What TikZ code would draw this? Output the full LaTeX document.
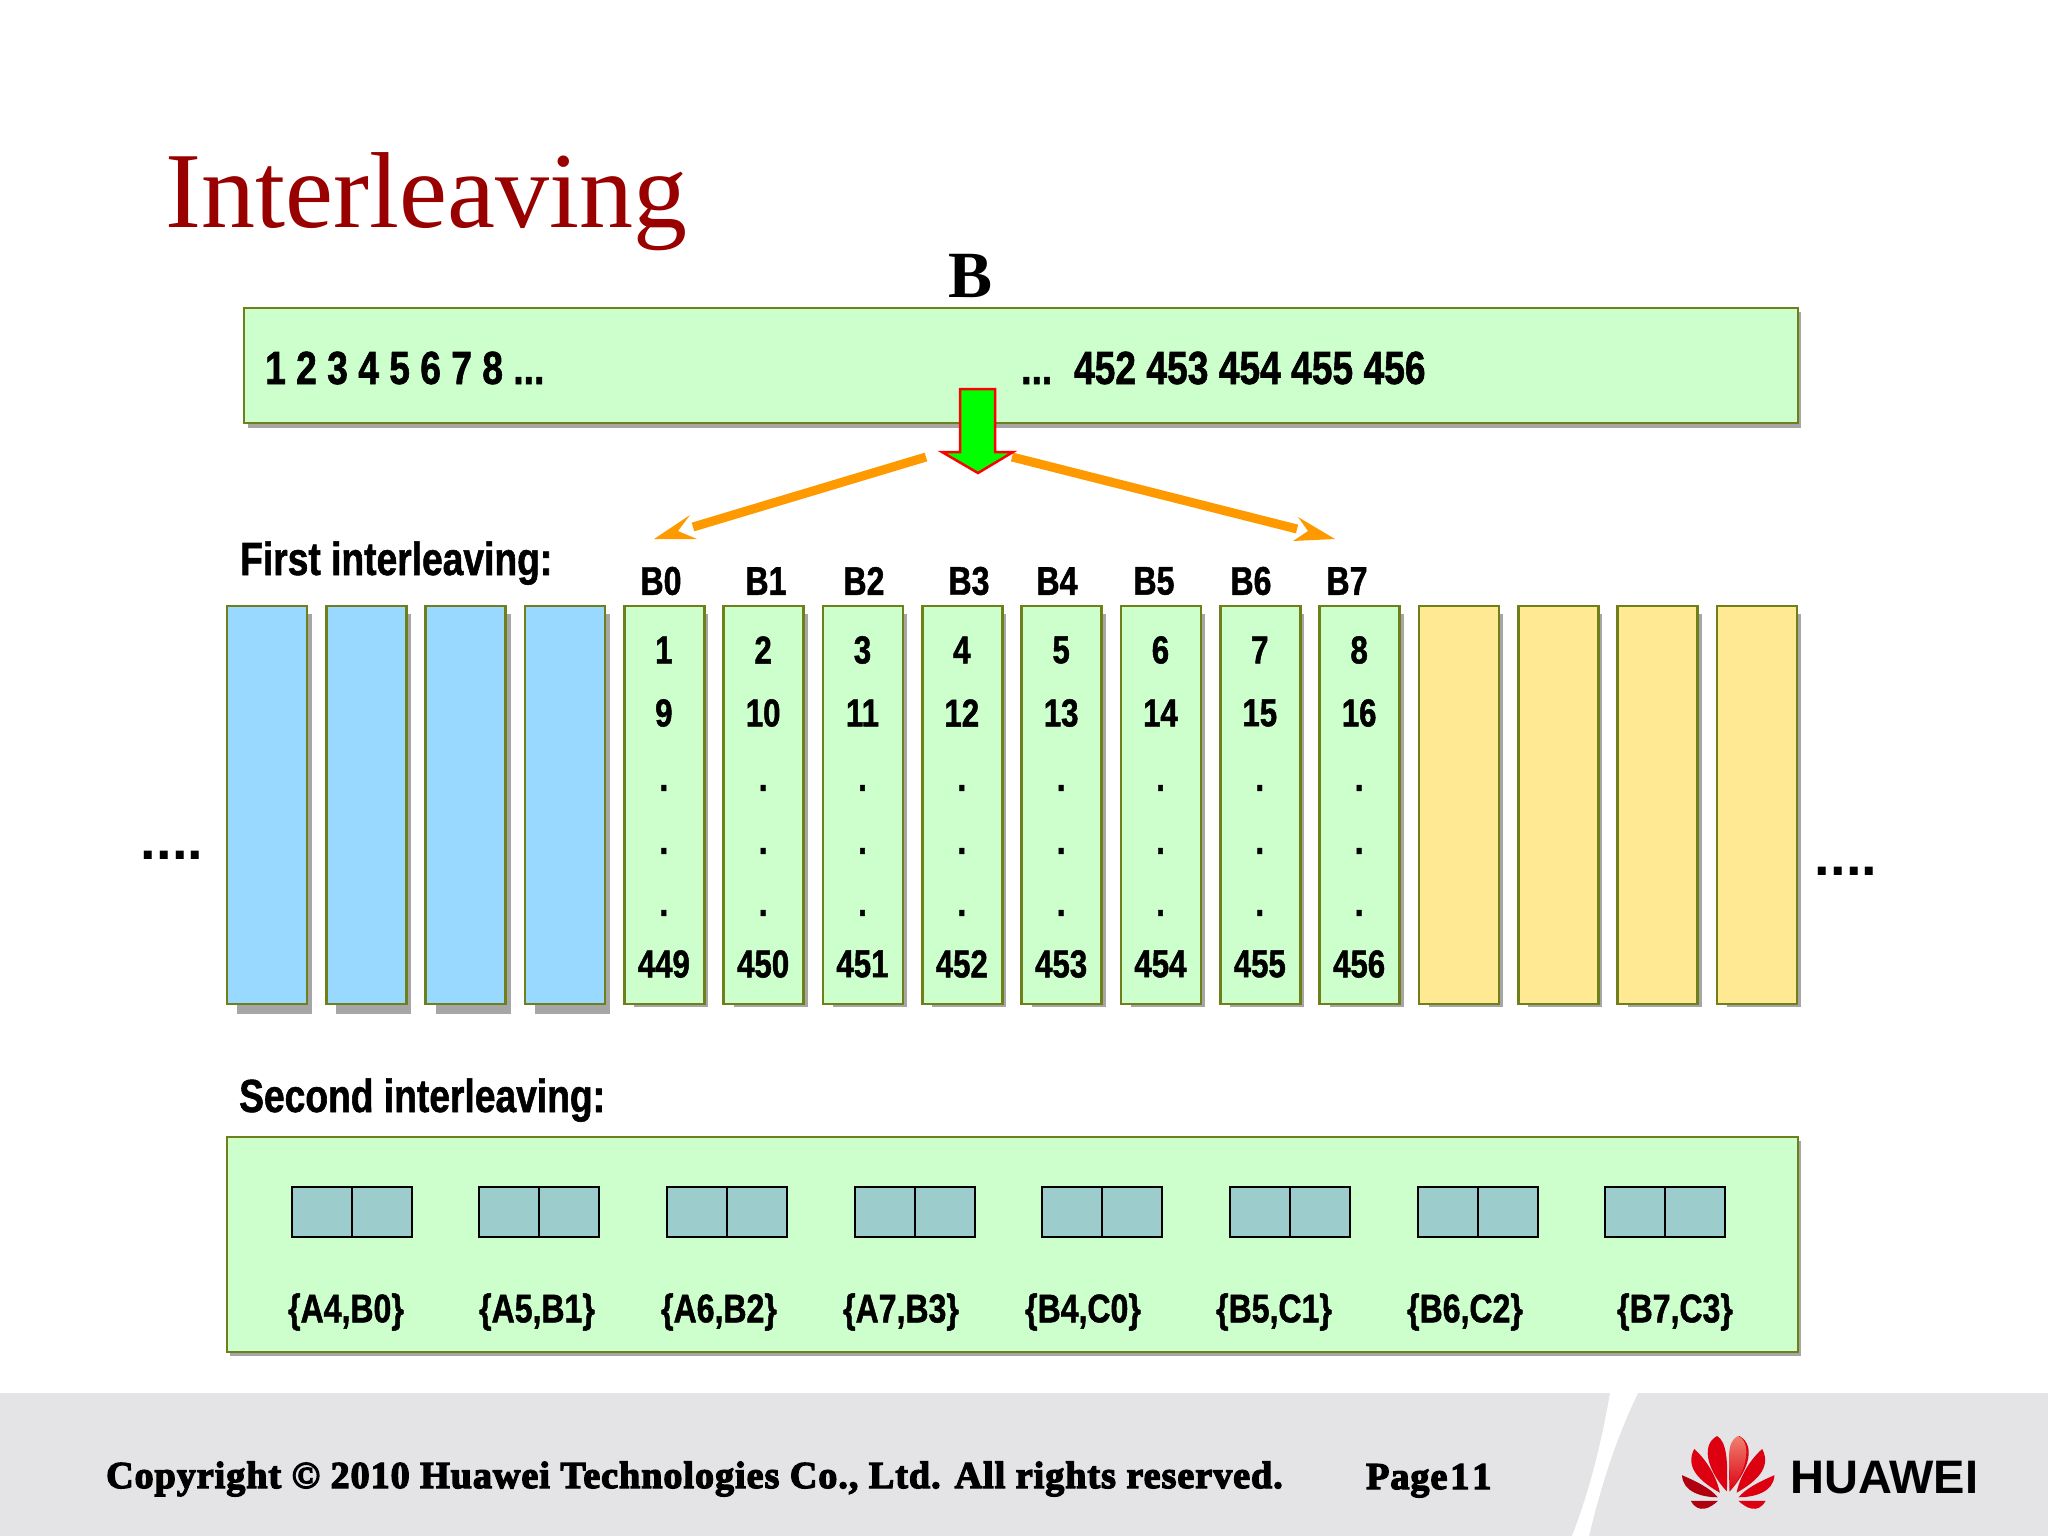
\documentclass[tikz,border=0pt]{standalone}
\usepackage{fontspec}
\setmainfont{Liberation Serif}
\newfontfamily\condfont[FakeStretch=0.8,BoldFeatures={FakeBold=1.2}]{Liberation Sans}
\newfontfamily\footfont[LetterSpace=2.7,BoldFeatures={FakeBold=3.5}]{Liberation Serif}
\newfontfamily\logofont{Liberation Sans}
\definecolor{titlered}{HTML}{990000}
\definecolor{boxgreen}{HTML}{CCFFCC}
\definecolor{boxblue}{HTML}{99D9FF}
\definecolor{boxyellow}{HTML}{FFE993}
\definecolor{boxline}{HTML}{6F7F1A}
\definecolor{shadowgrey}{HTML}{A6A6A6}
\definecolor{cellteal}{HTML}{9CCCCC}
\definecolor{arroworange}{HTML}{FF9900}
\definecolor{bandgrey}{HTML}{E4E3E6}
\definecolor{logored}{HTML}{DC0010}
\definecolor{logodark}{HTML}{B00010}
\definecolor{logopink}{HTML}{F08070}
\tikzset{
  x=1pt,y=-1pt,
  colbox/.style={draw=boxline,line width=2.6pt},
  colshadow/.style={fill=shadowgrey,draw=none},
  cell/.style={draw=black,fill=cellteal,line width=2pt},
  celltext/.style={font=\condfont\bfseries\fontsize{39}{39}\selectfont,inner sep=0pt,text=black},
  blabel/.style={font=\condfont\bfseries\fontsize{40}{40}\selectfont,inner sep=0pt,text=black},
  pairlabel/.style={font=\condfont\bfseries\fontsize{40}{40}\selectfont,inner sep=0pt,text=black},
  headtext/.style={font=\condfont\bfseries\fontsize{46.5}{46.5}\selectfont,inner sep=0pt,anchor=base west,text=black},
  dotstext/.style={inner sep=0pt,font=\logofont\bfseries\fontsize{56}{56}\selectfont},
  orangeline/.style={draw=arroworange,line width=9pt},
  orangehead/.style={fill=arroworange,draw=none},
  footertext/.style={font=\footfont\bfseries\fontsize{38}{38}\selectfont,inner sep=0pt,anchor=base west,text=black},
}
\begin{document}
\begin{tikzpicture}
\useasboundingbox (0,0) rectangle (2048,1536);
\fill[white] (0,0) rectangle (2048,1536);
% footer band
\fill[bandgrey] (0,1393) rectangle (2048,1536);
\fill[white] (1610,1393) .. controls (1602,1440) and (1590,1490) .. (1572,1536) -- (1589,1536) .. controls (1600,1490) and (1615,1440) .. (1638,1393) -- cycle;
% title
\node[inner sep=0pt,anchor=base west,text=titlered,font=\fontsize{108}{108}\selectfont] (title) at (165,227) {Interleaving};
\node[inner sep=0pt,font=\bfseries\fontsize{66}{66}\selectfont] (bhead) at (970,276) {B};
% top box
\fill[shadowgrey] (248,312) rectangle (1801,428);
\draw[colbox,fill=boxgreen] (244,308) rectangle (1798,423);
\node[headtext] (seqa) at (265,384) {1 2 3 4 5 6 7 8 ...};
\node[headtext] (seqb) at (1021,384) {...\hspace{8pt} 452 453 454 455 456};
% columns
\foreach \i/\f in {0/boxblue,1/boxblue,2/boxblue,3/boxblue}{
  \pgfmathsetmacro{\xa}{227+99.33*\i}
  \fill[colshadow] (\xa+10,614) rectangle (\xa+85,1014);
  \draw[colbox,fill=\f] (\xa,606) rectangle (\xa+80,1004);
}
\foreach \i/\a/\b/\c in {4/1/9/449,5/2/10/450,6/3/11/451,7/4/12/452,8/5/13/453,9/6/14/454,10/7/15/455,11/8/16/456}{
  \pgfmathsetmacro{\xa}{227+99.33*\i}
  \fill[colshadow] (\xa+10,614) rectangle (\xa+84,1007);
  \draw[colbox,fill=boxgreen] (\xa,606) rectangle (\xa+80,1004);
  \node[celltext] (ca\i) at (\xa+39.5,650) {\a};
  \node[celltext] (cb\i) at (\xa+39.5,713) {\b};
  \node[celltext] (cd\i) at (\xa+39.5,788) {.};
  \node[celltext] (ce\i) at (\xa+39.5,851) {.};
  \node[celltext] (cf\i) at (\xa+39.5,913) {.};
  \node[celltext] (cc\i) at (\xa+39.5,964) {\c};
}
\foreach \i in {12,13,14,15}{
  \pgfmathsetmacro{\xa}{227+99.33*\i}
  \fill[colshadow] (\xa+10,614) rectangle (\xa+84,1007);
  \draw[colbox,fill=boxyellow] (\xa,606) rectangle (\xa+80,1004);
}
\foreach \n/\x in {B0/661,B1/766,B2/864,B3/969,B4/1057,B5/1154,B6/1251,B7/1347}{
  \node[blabel] (l\n) at (\x,581) {\n};
}
\node[headtext] (first) at (240,575) {First interleaving:};
\node[headtext] (second) at (239,1112) {Second interleaving:};
% dots
\node[dotstext] (dl) at (172,855) {....};
\node[dotstext] (dr) at (1846,871) {....};
% second box
\fill[shadowgrey] (230,1141) rectangle (1801,1356);
\draw[colbox,fill=boxgreen] (227,1137) rectangle (1798,1352);
\foreach \i in {0,...,7}{
  \pgfmathsetmacro{\xa}{290.5+187.7*\i}
  \node[cell,minimum width=60pt,minimum height=50pt,inner sep=0pt,anchor=north west] (pa\i) at (\xa,1186) {};
  \node[cell,minimum width=60pt,minimum height=50pt,inner sep=0pt,anchor=north west] (pb\i) at (\xa+60,1186) {};
}
\foreach \t/\x in {{\{A4,B0\}}/346,{\{A5,B1\}}/537,{\{A6,B2\}}/719,{\{A7,B3\}}/901,{\{B4,C0\}}/1083,{\{B5,C1\}}/1274,{\{B6,C2\}}/1465,{\{B7,C3\}}/1675}{
  \node[pairlabel] at (\x,1312) {\t};
}
% arrows
\coordinate (rs) at (1012,457); \coordinate (re) at (1297,529);
\coordinate (ls) at (926,457); \coordinate (le) at (693,527);
\draw[orangeline] (rs) -- (re);
\draw[orangeline] (ls) -- (le);
\fill[orangehead] (1298,517) -- (1335,539) -- (1293,541) -- (1308,531) -- cycle;
\fill[orangehead] (690,515) -- (654,539) -- (697,539) -- (678,531) -- cycle;
% green arrow
\draw[draw=red,fill=green,line width=2.5pt,line join=miter] (960,389) -- (995,389) -- (995,452) -- (1013,452) -- (978,473) -- (942,452) -- (960,452) -- cycle;
% footer text
\node[footertext] (copy) at (106,1488) {Copyright © 2010 Huawei Technologies Co., Ltd. All rights reserved.};
\node[footertext] (page) at (1366,1489) {Page\hspace{3pt}1\hspace{3pt}1};
% logo
\begin{scope}[shift={(1500,1380)},x=0.35pt,y=-0.35pt]
  \foreach \s/\c in {1/logodark,-1/logored}{
    \begin{scope}[shift={(652,0)},xscale=\s]
      \fill[logored] (-4,318) .. controls (-50,270) and (-85,190) .. (-32,160) .. controls (-5,175) and (0,230) .. (-4,318) -- cycle;
      \fill[logored] (-24,322) .. controls (-80,290) and (-125,250) .. (-97,197) .. controls (-60,230) and (-32,280) .. (-24,322) -- cycle;
      \fill[\c] (-30,335) .. controls (-75,335) and (-130,320) .. (-132,272) .. controls (-90,290) and (-50,310) .. (-30,335) -- cycle;
      \fill[\c] (-107,345) -- (-29,345) .. controls (-50,365) and (-85,385) .. (-107,345) -- cycle;
    \end{scope}
  }
  \shade[top color=logopink,bottom color=logored] (656,318) .. controls (660,240) and (640,180) .. (680,160) .. controls (725,180) and (700,270) .. (656,318) -- cycle;
\end{scope}
\node[inner sep=0pt,anchor=base west,font=\logofont\bfseries\fontsize{47}{47}\selectfont] (logo) at (1790,1493) {HUAWEI};
\end{tikzpicture}
\end{document}
